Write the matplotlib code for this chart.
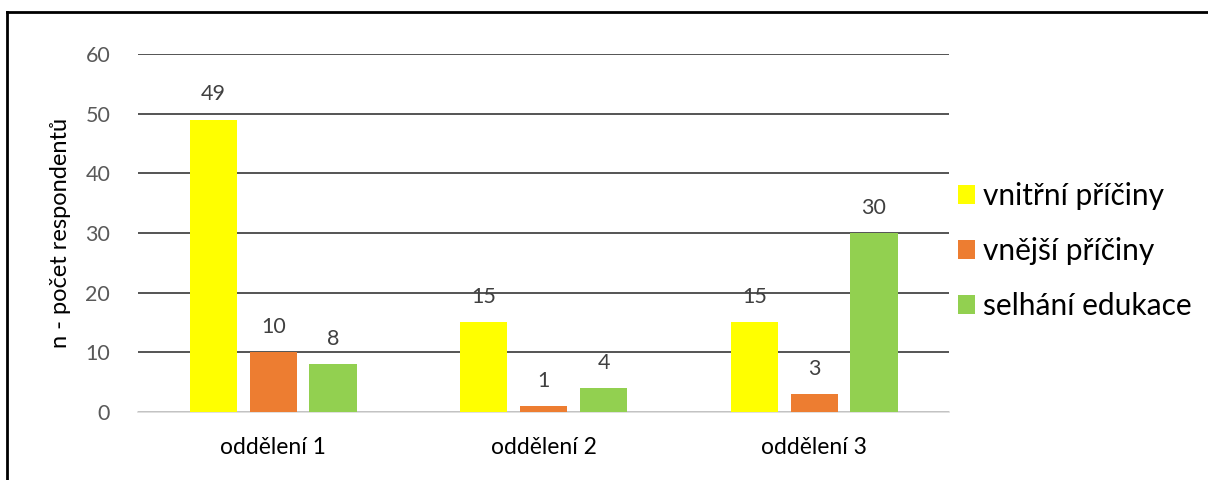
import numpy as np
import matplotlib.pyplot as plt
from matplotlib.lines import Line2D

plt.rcParams['font.family'] = ['Lato', 'DejaVu Sans']

# data
oddeleni = ["oddělení 1", "oddělení 2", "oddělení 3"]
serie = ["vnitřní příčiny", "vnější příčiny", "selhání edukace"]
vnitrni = [49, 15, 15]
vnejsi = [10, 1, 3]
edukace = [8, 4, 30]
barvy = ["#FFFF00", "#ED7D31", "#92D050"]

fig = plt.figure(figsize=(12.08, 4.8), dpi=100)
ax = fig.add_axes([0.1142, 0.1417, 0.6718, 0.7458])

x = np.arange(len(oddeleni))
sirka = 0.174
krok = 0.221
for i, (hodnoty, nazev) in enumerate(zip([vnitrni, vnejsi, edukace], serie)):
    bars = ax.bar(x + (i - 1) * krok, hodnoty, width=sirka, color=barvy[i], label=nazev, zorder=3)
    ax.bar_label(bars, padding=11, fontsize=15.5, color="#404040")

ax.set_xlim(-0.5, 2.5)
ax.set_ylim(0, 60)
ax.set_yticks(range(0, 61, 10))
ax.set_xticks(x)
ax.set_xticklabels(oddeleni, fontsize=16.5, color="black")
ax.tick_params(axis="y", labelsize=15.5, labelcolor="#595959", length=0, pad=20)
ax.tick_params(axis="x", length=0, pad=18)
ax.yaxis.grid(True, color="#262626", linewidth=1.1, zorder=0)
ax.set_axisbelow(True)
for s in ["top", "right", "left"]:
    ax.spines[s].set_visible(False)
ax.spines["bottom"].set_color("#D9D9D9")
ax.spines["bottom"].set_linewidth(1.2)
ax.set_ylabel("n - počet respondentů", fontsize=17, labelpad=10)

fig.legend(loc="center left", bbox_to_anchor=(0.793, 0.477), frameon=False,
           fontsize=21.5, handlelength=0.57, handleheight=0.57, handletextpad=0.27,
           labelspacing=0.9, borderpad=0, borderaxespad=0)

# ramecek (jen levy a horni okraj je videt)
fig.add_artist(Line2D([0.0058, 0.0058], [0, 0.975], transform=fig.transFigure, color="black", linewidth=2))
fig.add_artist(Line2D([0.0058, 1.0], [0.975, 0.975], transform=fig.transFigure, color="black", linewidth=2))

fig.savefig("out.png", dpi=100)
